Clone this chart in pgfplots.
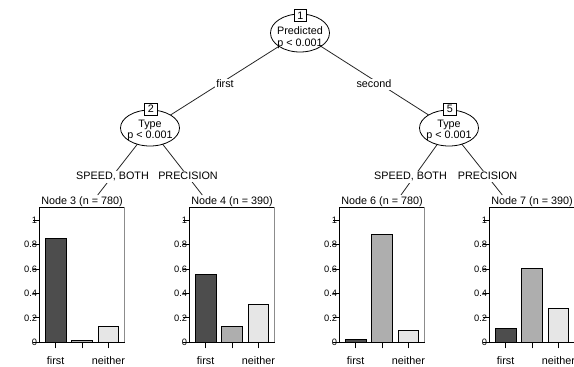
\documentclass[border=0pt]{standalone}
\usepackage{fontspec}
\setmainfont{Liberation Sans}
\usepackage{pgfplots}
\pgfplotsset{compat=1.18}
\definecolor{barA}{HTML}{4D4D4D}
\definecolor{barB}{HTML}{AEAEAE}
\definecolor{barC}{HTML}{E6E6E6}
\definecolor{framegray}{HTML}{8C8C8C}
\pgfplotsset{
  nodepanel/.style={
    scale only axis, width=85.5pt, height=135pt, anchor=south west,
    xmin=0.38, xmax=3.62, ymin=0, ymax=1.104,
    xtick={1,2,3}, xticklabels={first,,neither},
    ytick={0,0.2,0.4,0.6,0.8,1},
    yticklabels={0,0.2,0.4,0.6,0.8,1},
    tick align=outside, major tick length=6pt,
    xtick pos=left, ytick pos=left,
    axis line style={draw=none},
    tick style={black, line width=0.8pt},
    yticklabel style={font=\fontsize{9.3}{10}\selectfont, anchor=east, inner sep=0pt, xshift=4pt},
    xticklabel style={font=\fontsize{10.8}{12}\selectfont, anchor=base, inner sep=0pt, yshift=-16.5pt},
    title style={font=\fontsize{10.8}{12}\selectfont, at={(0.5,1)}, anchor=base, yshift=-3.4pt, inner sep=0pt},
    clip=false,
  },
}
\newcommand{\panelframe}{%
  \draw[black, line width=0.9pt] (rel axis cs:1,0) -- (rel axis cs:0,0) -- (rel axis cs:0,1) -- (rel axis cs:1,1);
  \draw[framegray, line width=0.9pt] (rel axis cs:1,1) -- (rel axis cs:1,0);
}
\begin{document}
\begin{tikzpicture}[x=1pt, y=1pt, font=\fontsize{10.8}{13}\selectfont]
\useasboundingbox (0,0) rectangle (574,367);
% edges
\draw[line width=0.8pt, black!85] (300,334) -- (150,239);
\draw[line width=0.8pt, black!85] (300,334) -- (449,239);
\draw[line width=0.8pt, black!85] (150,239) -- (97.7,172);
\draw[line width=0.8pt, black!85] (150,239) -- (202.3,172);
\draw[line width=0.8pt, black!85] (449,239) -- (401,172);
\draw[line width=0.8pt, black!85] (449,239) -- (502.3,172);
% edge labels
\node[fill=white, inner sep=1.5pt, anchor=base] at (225,279) {first};
\node[fill=white, inner sep=1.5pt, anchor=base] at (374,279) {second};
\node[fill=white, inner sep=1.5pt, anchor=base] at (112.5,187) {SPEED, BOTH};
\node[fill=white, inner sep=1.5pt, anchor=base] at (188,187) {PRECISION};
\node[fill=white, inner sep=1.5pt, anchor=base] at (410.5,187) {SPEED, BOTH};
\node[fill=white, inner sep=1.5pt, anchor=base] at (487.5,187) {PRECISION};
% inner nodes
\draw[line width=0.8pt, fill=white] (300,334) ellipse [x radius=29.5, y radius=19];
\node[anchor=base, inner sep=0pt] at (300,332) {Predicted};
\node[anchor=base, inner sep=0pt] at (300,320.5) {p < 0.001};
\node[draw, line width=0.8pt, fill=white, minimum width=12.5pt, minimum height=12pt, inner sep=0pt] at (300.5,351.7) {1};
\draw[line width=0.8pt, fill=white] (150,239) ellipse [x radius=29.5, y radius=18];
\node[anchor=base, inner sep=0pt] at (150,239.5) {Type};
\node[anchor=base, inner sep=0pt] at (150,228) {p < 0.001};
\node[draw, line width=0.8pt, fill=white, minimum width=12.5pt, minimum height=12pt, inner sep=0pt] at (151,257.8) {2};
\draw[line width=0.8pt, fill=white] (449,239) ellipse [x radius=29.5, y radius=18];
\node[anchor=base, inner sep=0pt] at (449,239.5) {Type};
\node[anchor=base, inner sep=0pt] at (449,228) {p < 0.001};
\node[draw, line width=0.8pt, fill=white, minimum width=12.5pt, minimum height=12pt, inner sep=0pt] at (450,257.8) {5};
% terminal panels
\begin{axis}[nodepanel, at={(39.3pt,24.7pt)}, title={Node 3 (n = 780)}]
\addplot[ybar, bar width=0.78, fill=barA, draw=black, line width=0.8pt] coordinates {(1,0.850)};
\addplot[ybar, bar width=0.78, fill=barB, draw=black, line width=0.8pt] coordinates {(2,0.016)};
\addplot[ybar, bar width=0.78, fill=barC, draw=black, line width=0.8pt] coordinates {(3,0.134)};
\panelframe
\end{axis}
\begin{axis}[nodepanel, at={(189.3pt,24.7pt)}, title={Node 4 (n = 390)}]
\addplot[ybar, bar width=0.78, fill=barA, draw=black, line width=0.8pt] coordinates {(1,0.558)};
\addplot[ybar, bar width=0.78, fill=barB, draw=black, line width=0.8pt] coordinates {(2,0.128)};
\addplot[ybar, bar width=0.78, fill=barC, draw=black, line width=0.8pt] coordinates {(3,0.314)};
\panelframe
\end{axis}
\begin{axis}[nodepanel, at={(339.3pt,24.7pt)}, title={Node 6 (n = 780)}]
\addplot[ybar, bar width=0.78, fill=barA, draw=black, line width=0.8pt] coordinates {(1,0.024)};
\addplot[ybar, bar width=0.78, fill=barB, draw=black, line width=0.8pt] coordinates {(2,0.879)};
\addplot[ybar, bar width=0.78, fill=barC, draw=black, line width=0.8pt] coordinates {(3,0.097)};
\panelframe
\end{axis}
\begin{axis}[nodepanel, at={(489.3pt,24.7pt)}, title={Node 7 (n = 390)}]
\addplot[ybar, bar width=0.78, fill=barA, draw=black, line width=0.8pt] coordinates {(1,0.113)};
\addplot[ybar, bar width=0.78, fill=barB, draw=black, line width=0.8pt] coordinates {(2,0.608)};
\addplot[ybar, bar width=0.78, fill=barC, draw=black, line width=0.8pt] coordinates {(3,0.279)};
\panelframe
\end{axis}
\end{tikzpicture}
\end{document}
